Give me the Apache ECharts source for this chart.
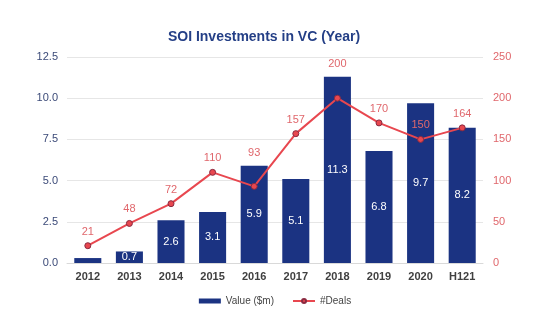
<!DOCTYPE html>
<html>
<head>
<meta charset="utf-8">
<script src="https://cdn.jsdelivr.net/npm/echarts@6/dist/echarts.min.js"></script>
<style>
  html, body { margin: 0; padding: 0; background: #ffffff; }
  #chart { width: 550px; height: 329px; }
</style>
</head>
<body>
<div id="chart"></div>
<script>
// Years on the category axis
const categories = ['2012', '2013', '2014', '2015', '2016', '2017', '2018', '2019', '2020', 'H121'];
// Invested value, $m (bars, left axis)
const valueSeries = [0.3, 0.7, 2.6, 3.1, 5.9, 5.1, 11.3, 6.8, 9.7, 8.2];
// Number of deals (line, right axis)
const dealsSeries = [21, 48, 72, 110, 93, 157, 200, 170, 150, 164];
// Axis tick labels
const leftTicks = ['0.0', '2.5', '5.0', '7.5', '10.0', '12.5'];
const rightTicks = ['0', '50', '100', '150', '200', '250'];

const navy = '#1b3382';
const red = '#e8474f';
const font = 'Liberation Sans, Arial, sans-serif';

// Deal labels that would sit on a bar are lifted clear of it
const liftedDeals = { '2016': 24, '2018': 25 };

const barData = valueSeries.map((v, i) => (
  i === 0 ? { value: v, label: { show: false } } : v
));
const lineData = dealsSeries.map((v, i) => {
  const lift = liftedDeals[categories[i]];
  return lift ? { value: v, label: { distance: lift } } : v;
});

const chart = echarts.init(document.getElementById('chart'));
chart.setOption({
  animation: false,
  backgroundColor: '#ffffff',
  title: {
    text: 'SOI Investments in VC (Year)',
    left: 259,
    textAlign: 'center',
    top: 25,
    textStyle: { color: '#243f86', fontSize: 14, fontWeight: 'bold', fontFamily: font }
  },
  legend: {
    bottom: 18,
    left: 'center',
    itemGap: 18,
    itemWidth: 22,
    itemHeight: 5,
    textStyle: { color: '#444', fontSize: 10, fontFamily: font },
    data: [
      { name: 'Value ($m)', icon: 'rect' },
      { name: '#Deals' }
    ]
  },
  grid: { left: 67, right: 67, top: 57, bottom: 66 },
  xAxis: {
    type: 'category',
    data: categories,
    axisTick: { show: false },
    axisLine: { lineStyle: { color: '#d9d9d9' } },
    axisLabel: { color: '#404040', fontSize: 11, fontWeight: 'bold', margin: 8, fontFamily: font }
  },
  yAxis: [
    {
      type: 'value', min: 0, max: 12.5, interval: 2.5,
      axisLabel: {
        color: '#3b4a78', fontSize: 11, margin: 9, fontFamily: font,
        formatter: (v) => leftTicks[Math.round(v / 2.5)]
      },
      splitLine: { lineStyle: { color: '#e6e6e6' } },
      axisLine: { show: false }, axisTick: { show: false }
    },
    {
      type: 'value', min: 0, max: 250, interval: 50,
      axisLabel: {
        color: '#e0676c', fontSize: 11, margin: 10, fontFamily: font,
        formatter: (v) => rightTicks[Math.round(v / 50)]
      },
      splitLine: { show: false },
      axisLine: { show: false }, axisTick: { show: false }
    }
  ],
  series: [
    {
      name: 'Value ($m)',
      type: 'bar',
      yAxisIndex: 0,
      data: barData,
      barWidth: '65%',
      itemStyle: { color: navy },
      label: {
        show: true, position: 'inside', color: '#ffffff', fontSize: 11, fontFamily: font,
        formatter: (p) => p.value.toFixed(1)
      }
    },
    {
      name: '#Deals',
      type: 'line',
      yAxisIndex: 1,
      data: lineData,
      symbol: 'circle',
      symbolSize: 6,
      lineStyle: { color: red, width: 2 },
      itemStyle: { color: red, borderColor: '#8a2a40', borderWidth: 1 },
      label: {
        show: true, position: 'top', distance: 5, color: '#e0676c', fontSize: 11, fontFamily: font
      },
      z: 3
    }
  ]
});
</script>
</body>
</html>
